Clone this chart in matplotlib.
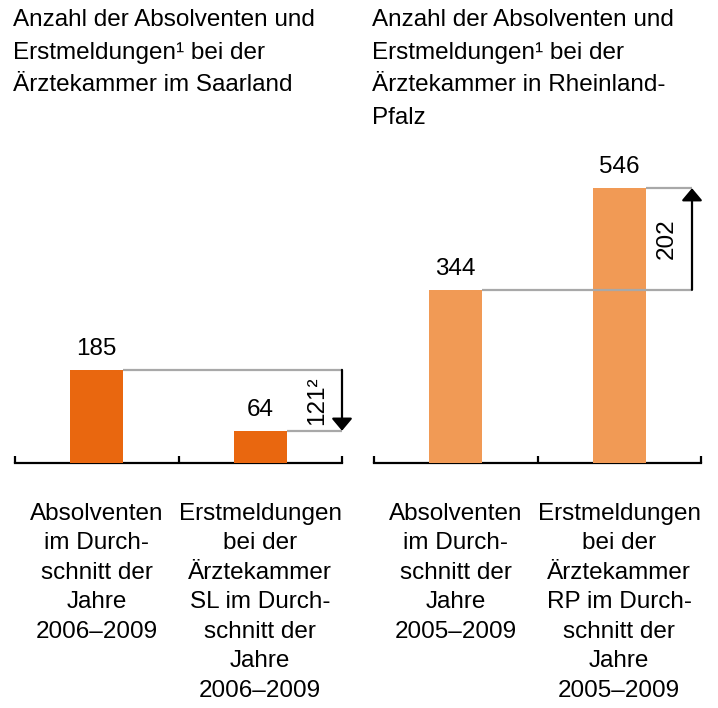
import matplotlib.pyplot as plt

plt.rcParams['font.family'] = ['Liberation Sans', 'DejaVu Sans']

# ===== DATA =====
titles = [
    "Anzahl der Absolventen und\nErstmeldungen¹ bei der\nÄrztekammer im Saarland",
    "Anzahl der Absolventen und\nErstmeldungen¹ bei der\nÄrztekammer in Rheinland-\nPfalz",
]
labels_sl = [
    "Absolventen\nim Durch-\nschnitt der\nJahre\n2006–2009",
    "Erstmeldungen\nbei der\nÄrztekammer\nSL im Durch-\nschnitt der\nJahre\n2006–2009",
]
labels_rp = [
    "Absolventen\nim Durch-\nschnitt der\nJahre\n2005–2009",
    "Erstmeldungen\nbei der\nÄrztekammer\nRP im Durch-\nschnitt der\nJahre\n2005–2009",
]
values_sl = [185, 64]
values_rp = [344, 546]
diff_labels = ["121²", "202"]

colors = ["#E9670F", "#F19A55"]
gray = "#A8A8A8"

W, H = 718, 708
fig = plt.figure(figsize=(W / 100, H / 100), dpi=100)

base_y = 463          # pixel row of the baseline
ax_h = 302            # pixel height for 0..600
panels = [
    (15, values_sl, labels_sl, colors[0], 2.0, diff_labels[0], 1.85),
    (374, values_rp, labels_rp, colors[1], 1.945, diff_labels[1], 1.79),
]

for i, (x0, vals, labs, col, arrow_x, dlab, dlab_x) in enumerate(panels):
    ax = fig.add_axes([x0 / W, (H - base_y) / H, 327 / W, ax_h / H])
    ax.set_xlim(0, 2)
    ax.set_ylim(0, 600)
    for s in ['top', 'left', 'right']:
        ax.spines[s].set_visible(False)
    ax.spines['bottom'].set_linewidth(1.6)
    ax.spines['bottom'].set_zorder(1)
    ax.set_xticks([0, 1, 2])
    ax.set_xticklabels([])
    ax.tick_params(axis='x', direction='in', length=5, width=1.6)
    ax.set_yticks([])

    xs = [0.5, 1.5]
    bw = 0.324
    ax.bar(xs, vals, width=bw, color=col, zorder=2)

    for x, v in zip(xs, vals):
        ax.annotate(str(v), (x, v), xytext=(0, 11), textcoords='offset points',
                    ha='center', va='baseline', fontsize=17.5)

    # connector lines
    ax.hlines(vals[0], xs[0] + bw / 2, arrow_x, color=gray, lw=1.6, zorder=3)
    ax.hlines(vals[1], xs[1] + bw / 2, arrow_x, color=gray, lw=1.6, zorder=3)
    ax.annotate('', xy=(arrow_x, vals[1]), xytext=(arrow_x, vals[0]),
                arrowprops=dict(arrowstyle='-|>,head_length=0.5,head_width=0.42',
                                color='black', lw=1.6, mutation_scale=15,
                                shrinkA=0, shrinkB=0),
                annotation_clip=False, zorder=4)
    ax.text(dlab_x, (vals[0] + vals[1]) / 2, dlab, rotation=90,
            ha='center', va='center', fontsize=17.5)

    # category labels
    for x, lab in zip(xs, labs):
        ax.annotate(lab, (x, 0), xytext=(0, -(503 - base_y) / 100 * 72),
                    textcoords='offset points', ha='center', va='top',
                    fontsize=17.5, linespacing=1.44, annotation_clip=False)

    fig.text((x0 - 2) / W, 1 - 9 / H, titles[i], ha='left', va='top',
             fontsize=17.5, linespacing=1.62)

fig.savefig("out.png", dpi=100)
